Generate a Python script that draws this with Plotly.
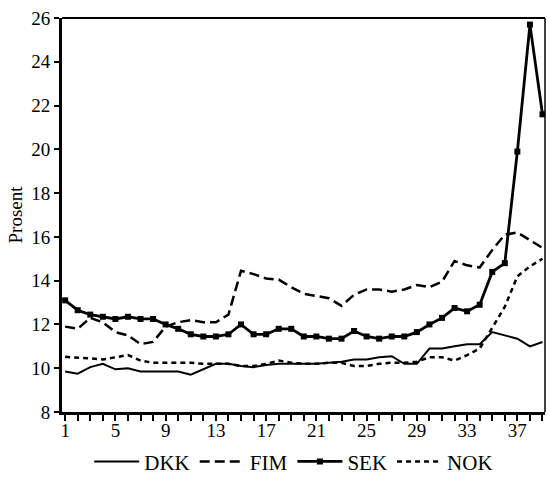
import plotly.graph_objects as go

periods = list(range(1, 40))
dkk = [9.85, 9.75, 10.05, 10.2, 9.95, 10.0, 9.85, 9.85, 9.85, 9.85,
       9.7, 9.95, 10.2, 10.2, 10.1, 10.05, 10.15, 10.2, 10.2, 10.2,
       10.2, 10.25, 10.3, 10.4, 10.4, 10.5, 10.55, 10.2, 10.2, 10.9,
       10.9, 11.0, 11.1, 11.1, 11.65, 11.5, 11.35, 11.0, 11.2]
fim = [11.9, 11.8, 12.3, 12.1, 11.65, 11.5, 11.1, 11.2, 11.9, 12.1,
       12.2, 12.1, 12.1, 12.45, 14.45, 14.3, 14.1, 14.05, 13.7, 13.4,
       13.3, 13.2, 12.85, 13.35, 13.6, 13.6, 13.5, 13.6, 13.8, 13.7,
       13.95, 14.9, 14.7, 14.6, 15.4, 16.1, 16.2, 15.85, 15.5]
sek = [13.1, 12.65, 12.45, 12.35, 12.25, 12.35, 12.25, 12.25, 12.0, 11.8,
       11.55, 11.45, 11.45, 11.55, 12.0, 11.55, 11.55, 11.8, 11.8, 11.45,
       11.45, 11.35, 11.35, 11.7, 11.45, 11.35, 11.45, 11.45, 11.65, 12.0,
       12.3, 12.75, 12.6, 12.9, 14.4, 14.8, 19.9, 25.7, 21.6]
nok = [10.52, 10.5, 10.45, 10.4, 10.5, 10.6, 10.35, 10.25, 10.25, 10.25,
       10.25, 10.2, 10.2, 10.2, 10.1, 10.1, 10.2, 10.35, 10.25, 10.2,
       10.2, 10.25, 10.25, 10.1, 10.1, 10.2, 10.25, 10.25, 10.3, 10.5,
       10.5, 10.35, 10.6, 10.9, 11.85, 12.8, 14.2, 14.65, 15.0]

x_labels = {1: "1", 5: "5", 9: "9", 13: "13", 17: "17", 21: "21",
            25: "25", 29: "29", 33: "33", 37: "37"}
y_ticks = [8, 10, 12, 14, 16, 18, 20, 22, 24, 26]

FONT = "Liberation Serif"

fig = go.Figure()
fig.add_trace(go.Scatter(x=periods, y=dkk, name="DKK", mode="lines",
                         line=dict(color="black", width=2)))
fig.add_trace(go.Scatter(x=periods, y=fim, name="FIM", mode="lines",
                         line=dict(color="black", width=2.5, dash="10px,5px")))
fig.add_trace(go.Scatter(x=periods, y=sek, name="SEK", mode="lines+markers",
                         line=dict(color="black", width=2.8),
                         marker=dict(symbol="square", size=6, color="black")))
fig.add_trace(go.Scatter(x=periods, y=nok, name="NOK", mode="lines",
                         line=dict(color="black", width=2.5, dash="5px,4px")))

fig.update_layout(
    width=549, height=482,
    margin=dict(l=62, r=4, t=18, b=70, autoexpand=False),
    paper_bgcolor="white", plot_bgcolor="white",
    font=dict(family=FONT, size=19, color="black"),
    showlegend=True,
    legend=dict(orientation="h", xref="container", yref="container",
                x=0.535, y=0.042, xanchor="center", yanchor="middle",
                font=dict(family=FONT, size=21), itemwidth=45, tracegroupgap=0,
                bgcolor="rgba(0,0,0,0)"),
    xaxis=dict(range=[0.75, 39.2], showgrid=False, zeroline=False,
               automargin=False,
               showline=True, linecolor="black", linewidth=3,
               tickmode="array", tickvals=periods,
               ticktext=[x_labels.get(p, "") for p in periods],
               ticks="outside", ticklen=6, tickwidth=2, tickcolor="black",
               ticklabelstandoff=-7,
               tickfont=dict(family=FONT, size=19)),
    yaxis=dict(range=[8, 26], showgrid=False, zeroline=False,
               automargin=False,
               showline=True, linecolor="black", linewidth=3,
               tickvals=y_ticks, ticks="outside", ticklen=5, tickwidth=2,
               tickcolor="black", tickfont=dict(family=FONT, size=19),
               title=dict(text="Prosent", font=dict(family=FONT, size=19),
                          standoff=4)),
    shapes=[
        dict(type="line", xref="paper", yref="paper", x0=0, x1=1, y0=1, y1=1,
             line=dict(color="black", width=2)),
        dict(type="line", xref="paper", yref="paper", x0=1, x1=1, y0=0, y1=1,
             line=dict(color="black", width=1.5)),
    ],
)

fig.write_html("out.html")
